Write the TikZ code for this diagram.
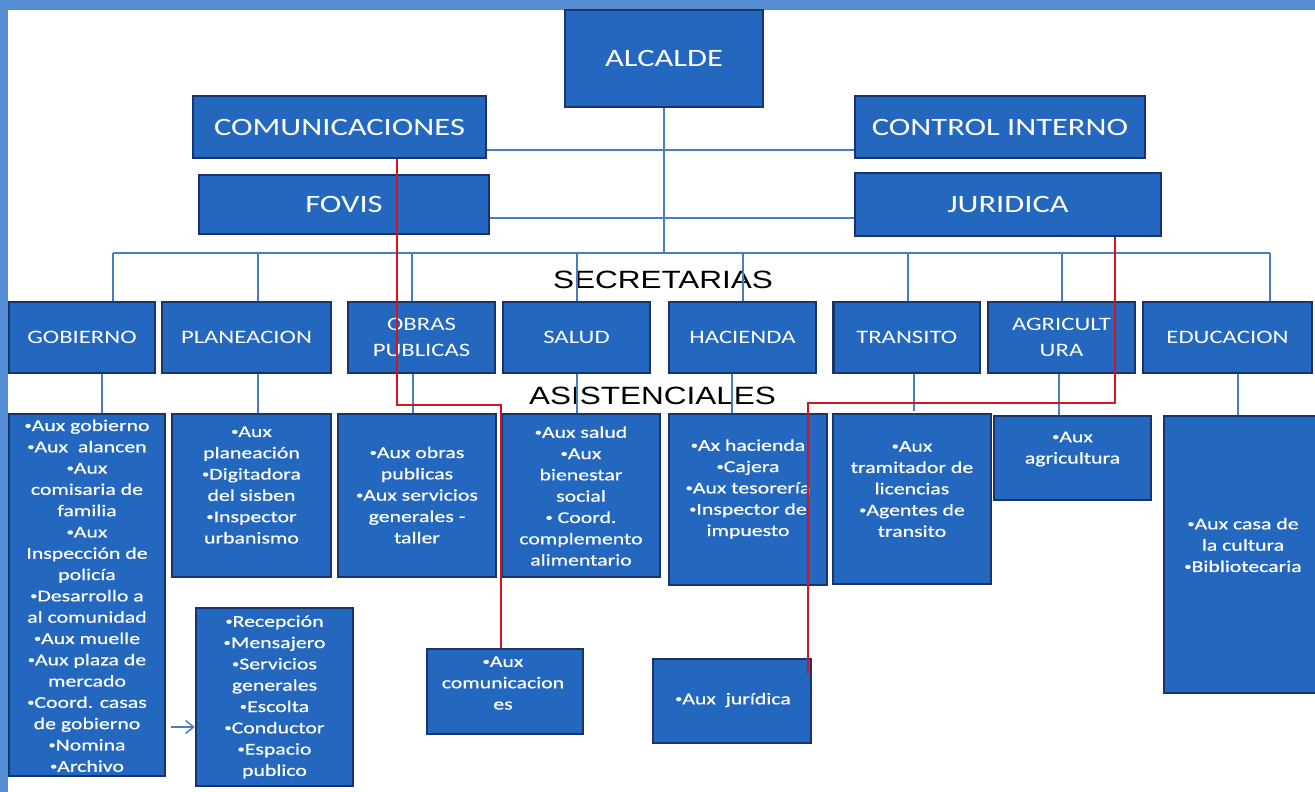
\documentclass[tikz,border=0pt]{standalone}
\usepackage{fontspec}
\usetikzlibrary{calc,arrows.meta,backgrounds}
\newfontfamily\bigfont[FakeStretch=1.3]{Carlito}
\newfontfamily\lstfont[FakeStretch=1.32,FakeBold=0.6]{Carlito}
\newfontfamily\secfont[FakeStretch=1.26]{Liberation Sans}
\newcommand{\blt}{{\raisebox{0.12em}{\fontsize{11}{11}\selectfont •}}}
\definecolor{boxfill}{RGB}{35,103,190}
\definecolor{boxline}{RGB}{25,52,108}
\definecolor{connc}{RGB}{74,126,192}
\definecolor{redc}{RGB}{210,20,30}
\definecolor{stripc}{RGB}{85,142,213}
\tikzset{
  box/.style={draw=boxline, line width=2.5pt, fill=boxfill, text=white, inner sep=0pt, align=center},
  bigbox/.style={box, font=\bigfont\fontsize{25}{30}\selectfont},
  titlebox/.style={box, minimum height=71pt, font=\bigfont\fontsize{19}{25.5}\selectfont},
  listbox/.style={box},
  listtext/.style={text=white, align=center, inner sep=0pt, font=\lstfont\fontsize{16.5}{21.3}\selectfont},
  connline/.style={draw=connc, line width=1.5pt},
  redline/.style={draw=redc, line width=2pt},
  seclabel/.style={font=\secfont\fontsize{25}{30}\selectfont, text=black, inner sep=0pt},
  stripbox/.style={fill=stripc, draw=none}
}
\begin{document}
\begin{tikzpicture}[x=1pt,y=-1pt]
\useasboundingbox (0,0) rectangle (1315,792);

% top level
\node[bigbox, minimum width=198pt, minimum height=97pt] (alc) at (664,58.5) {ALCALDE};
\node[bigbox, minimum width=293pt, minimum height=62pt] (com) at (339.5,127) {COMUNICACIONES};
\node[bigbox, minimum width=290pt, minimum height=62pt] (ci) at (1000,127) {CONTROL INTERNO};
\node[bigbox, minimum width=290pt, minimum height=59pt] (fov) at (344,204.5) {FOVIS};
\node[bigbox, minimum width=306pt, minimum height=63pt] (jur) at (1008,204.5) {JURIDICA};

% secretarias
\node[titlebox, minimum width=146pt] (gob) at (82,337.5) {GOBIERNO};
\node[titlebox, minimum width=169pt] (pla) at (246.5,337.5) {PLANEACION};
\node[titlebox, minimum width=147pt] (obr) at (421.5,337.5) {OBRAS\\PUBLICAS};
\node[titlebox, minimum width=147pt] (sal) at (576.5,337.5) {SALUD};
\node[titlebox, minimum width=147pt] (hac) at (742.5,337.5) {HACIENDA};
\node[titlebox, minimum width=146.5pt] (tra) at (906.75,337.5) {TRANSITO};
\node[titlebox, minimum width=147pt] (agr) at (1061.5,337.5) {AGRICULT\\URA};
\node[titlebox, minimum width=169pt] (edu) at (1227.5,337.5) {EDUCACION};

% asistenciales boxes
\node[listbox, minimum width=156pt, minimum height=362pt] (lgob) at (87,595) {};
\node[listbox, minimum width=159pt, minimum height=163pt] (lpla) at (251.5,495.5) {};
\node[listbox, minimum width=158pt, minimum height=163pt] (lobr) at (417,495.5) {};
\node[listbox, minimum width=158pt, minimum height=163pt] (lsal) at (581,495.5) {};
\node[listbox, minimum width=158pt, minimum height=171pt] (lhac) at (748,499.5) {};
\node[listbox, minimum width=158pt, minimum height=170pt] (ltra) at (912,499) {};
\node[listbox, minimum width=157pt, minimum height=84pt] (lagr) at (1072.5,458) {};
\node[listbox, minimum width=158pt, minimum height=277pt] (ledu) at (1243,554.5) {};
\node[listbox, minimum width=157pt, minimum height=178pt] (lstaff) at (274.5,697) {};
\node[listbox, minimum width=156pt, minimum height=85pt] (lcom) at (505,691.5) {};
\node[listbox, minimum width=158pt, minimum height=84pt] (ljur) at (732,701) {};

% list texts
\node[listtext] (tgob) at (87,595.7) {\blt Aux gobierno\\\blt Aux\ \ alancen\\\blt Aux\\comisaria de\\familia\\\blt Aux\\Inspección de\\policía\\\blt Desarrollo a\\al comunidad\\\blt Aux muelle\\\blt Aux plaza de\\mercado\\\blt Coord. casas\\de gobierno\\\blt Nomina\\\blt Archivo};
\node[listtext] (tpla) at (251.5,485) {\blt Aux\\planeación\\\blt Digitadora\\del sisben\\\blt Inspector\\urbanismo};
\node[listtext] (tobr) at (417,495) {\blt Aux obras\\publicas\\\blt Aux servicios\\generales -\\taller};
\node[listtext] (tsal) at (581,496) {\blt Aux salud\\\blt Aux\\bienestar\\social\\\blt\ Coord.\\complemento\\alimentario};
\node[listtext] (thac) at (748,489) {\blt Ax hacienda\\\blt Cajera\\\blt Aux tesorería\\\blt Inspector de\\impuesto};
\node[listtext] (ttra) at (912,489) {\blt Aux\\tramitador de\\licencias\\\blt Agentes de\\transito};
\node[listtext] (tagr) at (1072.5,449) {\blt Aux\\agricultura};
\node[listtext] (tedu) at (1243,545) {\blt Aux casa de\\la cultura\\\blt Bibliotecaria};
\node[listtext] (tstaff) at (274.5,697) {\blt Recepción\\\blt Mensajero\\\blt Servicios\\generales\\\blt Escolta\\\blt Conductor\\\blt Espacio\\publico};
\node[listtext] (tcom) at (503,683) {\blt Aux\\comunicacion\\es};
\node[listtext] (tjur) at (733,700) {\blt Aux\ \ jurídica};

\begin{scope}[on background layer]
  \fill[white] (0,0) rectangle (1315,792);
  \fill[stripbox] (0,0) rectangle (1315,10);
  \fill[stripbox] (0,0) rectangle (8,792);
  \node[seclabel] (secl) at (663,280) {SECRETARIAS};
  \node[seclabel] (asil) at (652.5,396) {ASISTENCIALES};
  \coordinate (busL) at (113,253);
  \coordinate (busR) at (1270,253);
  \draw[connline] (busL) -- (busR);
  \draw[connline] (alc.south) -- (alc.south |- busL);
  \draw[connline] (com.east |- 0,150) -- (ci.west |- 0,150);
  \draw[connline] (fov.east |- 0,218) -- (jur.west |- 0,218);
  \foreach \xx/\nn in {113/gob,258/pla,412/obr,577/sal,743/hac,908/tra,1062/agr,1270/edu}
    \draw[connline] (\xx,253) -- (\xx,0 |- \nn.north);
  \foreach \xx/\aa/\bb in {102/gob/lgob,258/pla/lpla,413/obr/lobr,577/sal/lsal,732/hac/lhac,1059/agr/lagr,1238/edu/ledu}
    \draw[connline] (\xx,0 |- \aa.south) -- (\xx,0 |- \bb.north);
  \draw[connline] (914,0 |- tra.south) -- (914,411);
\end{scope}

% arrow to staff box
\draw[connline, -{Straight Barb[length=8pt,width=13pt]}] ($(lgob.east |- 0,727)+(5,0)$) -- (lstaff.west |- 0,727);

% red lines
\coordinate (rj) at (808,673);
\draw[redline] (com.south -| 397,0) -- (397,405) -- (501,405) -- (lcom.north -| 501,0);
\draw[redline] (jur.south -| 1115,0) -- (1115,403) -- (808,403) -- (rj);
\end{tikzpicture}
\end{document}
